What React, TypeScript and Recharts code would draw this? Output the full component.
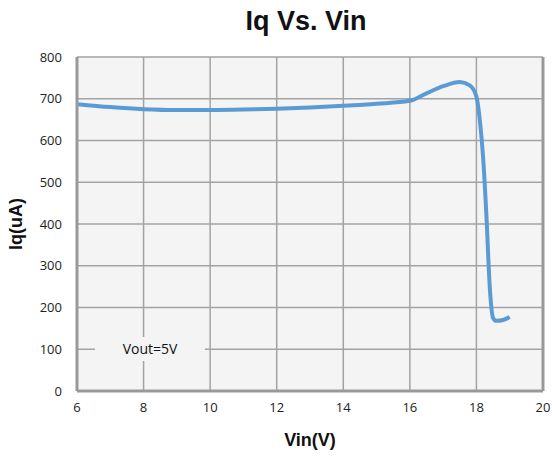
import React from 'react';
import { LineChart, Line, XAxis, YAxis, CartesianGrid, ReferenceLine, Label } from 'recharts';

const vin = [6, 7, 8, 9, 10, 11, 12, 13, 14, 15, 16, 16.5, 17, 17.5, 17.8, 18.0, 18.1, 18.2, 18.3, 18.4, 18.5, 18.6, 18.8, 19.0];
const iq = [687, 680, 675, 673, 673, 674, 676, 679, 683, 688, 695, 713, 730, 740, 732, 705, 650, 560, 420, 250, 175, 168, 170, 177];
const xTicks = [6, 8, 10, 12, 14, 16, 18, 20];
const yTicks = [0, 100, 200, 300, 400, 500, 600, 700, 800];

const data = vin.map((v, i) => ({ vin: v, iq: iq[i] }));

const tickFont = { fontFamily: 'Open Sans, Lato, sans-serif', fontSize: 13, fill: '#222' };
const boldFont = '"Liberation Sans Narrow", "Liberation Sans", Arial, sans-serif';

export default function App() {
  return (
    <div style={{ position: 'absolute', left: 0, top: 0, width: 552, height: 456, background: '#fff' }}>
      <div style={{ position: 'absolute', left: 0, top: 6, width: 612, textAlign: 'center', fontFamily: boldFont, fontWeight: 'bold', fontSize: 27, color: '#111' }}>
        Iq Vs. Vin
      </div>
      <LineChart width={552} height={456} data={data} margin={{ top: 57, right: 9, left: 0, bottom: 0 }}>
        <CartesianGrid stroke="#a3a3a3" strokeWidth={1.5} fill="#f4f4f4" horizontalValues={yTicks} verticalValues={xTicks} />
        <XAxis
          type="number"
          dataKey="vin"
          domain={[6, 20]}
          ticks={xTicks}
          height={65}
          tickLine={false}
          tickSize={0}
          tickMargin={12}
          axisLine={{ stroke: '#999', strokeWidth: 3 }}
          tick={tickFont}
        >
          <Label value="Vin(V)" position="insideBottom" offset={10} style={{ fontFamily: boldFont, fontWeight: 'bold', fontSize: 18, fill: '#111' }} />
        </XAxis>
        <YAxis
          type="number"
          domain={[0, 800]}
          ticks={yTicks}
          width={77}
          tickLine={false}
          tickSize={0}
          tickMargin={15}
          axisLine={{ stroke: '#999', strokeWidth: 3 }}
          tick={tickFont}
        >
          <Label value="Iq(uA)" angle={-90} position="insideLeft" offset={16} style={{ fontFamily: boldFont, fontWeight: 'bold', fontSize: 18, fill: '#111', textAnchor: 'middle' }} />
        </YAxis>
        <ReferenceLine x={20} stroke="#999" strokeWidth={3} />
        <Line type="monotone" dataKey="iq" stroke="#5b9bd5" strokeWidth={4} dot={false} isAnimationActive={false} />
      </LineChart>
      <div style={{ position: 'absolute', left: 95, top: 337, width: 110, height: 24, background: '#f4f4f4', fontFamily: 'Open Sans, Lato, sans-serif', fontSize: 14, color: '#111', textAlign: 'center', lineHeight: '24px' }}>
        Vout=5V
      </div>
    </div>
  );
}
